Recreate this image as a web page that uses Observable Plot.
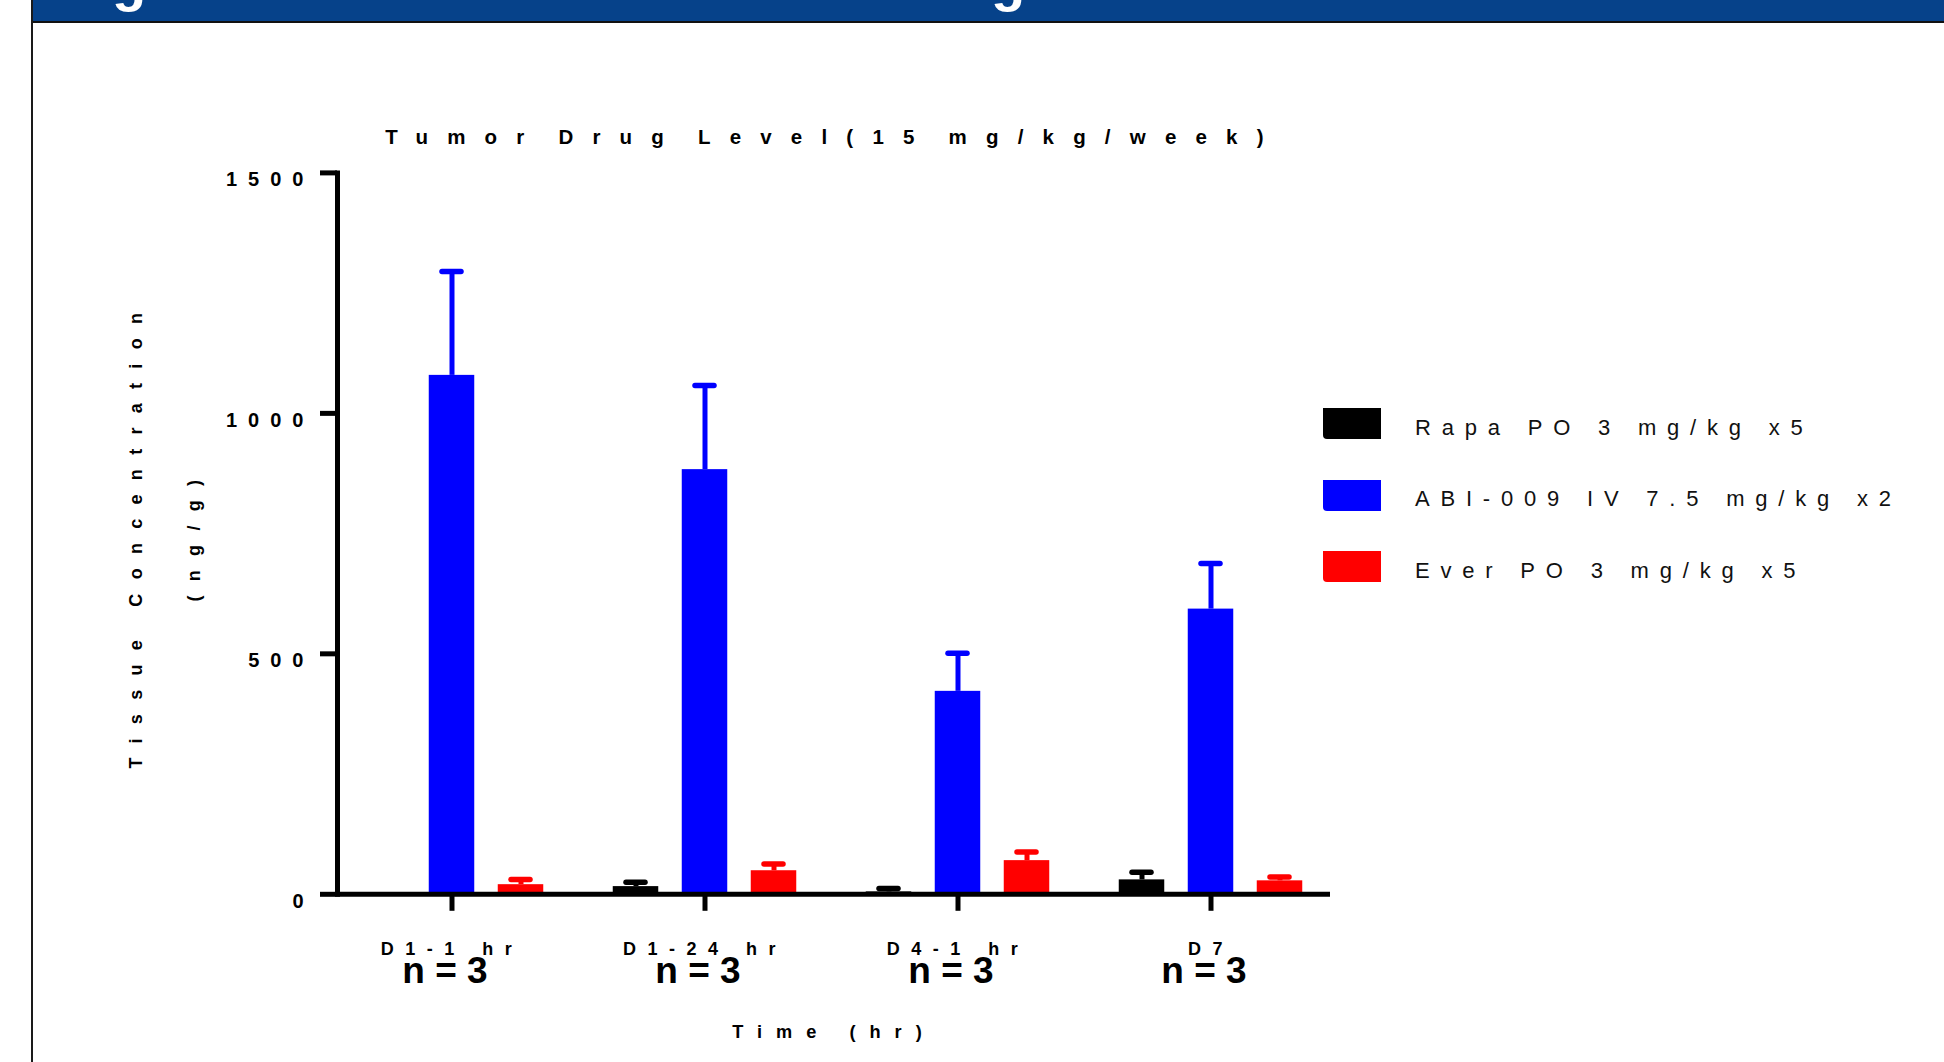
<!DOCTYPE html>
<html>
<head>
<meta charset="utf-8">
<script src="https://cdn.jsdelivr.net/npm/d3@7"></script>
<script src="https://cdn.jsdelivr.net/npm/@observablehq/plot@0.6"></script>
<style>
  html, body { margin: 0; padding: 0; background: #ffffff; }
  #page { position: relative; width: 1944px; height: 1062px; overflow: hidden; background: #ffffff; font-family: "Liberation Sans", Arial, sans-serif; }
  #chart { position: absolute; left: 0; top: 0; }
  #header { position: absolute; left: 33px; top: 0; width: 1911px; height: 21px; background: #06428a; border-bottom: 2.5px solid #111; }
  #headtext { position: absolute; left: 0; top: 0; }
  #leftline { position: absolute; left: 31px; top: 0; width: 2.3px; height: 1062px; background: #1a1a1a; }
  #legend { position: absolute; left: 1323px; top: 408px; }
  .lg-row { display: flex; align-items: center; height: 31px; margin-bottom: 40.5px; }
  .lg-sw { width: 58px; height: 31px; border-radius: 0 0 0 4px; }
  .lg-tx { margin-left: 34px; font-size: 22px; letter-spacing: 10.8px; color: #111; white-space: nowrap; position: relative; top: 4px; }
</style>
</head>
<body>
<div id="page">
  <div id="chart"></div>
  <div id="leftline"></div>
  <div id="header"></div>
  <svg id="headtext" width="1944" height="21">
    <text x="129" y="0" text-anchor="middle" font-family="Liberation Sans, Arial, sans-serif" font-weight="bold" font-size="56" fill="#ffffff">g</text>
    <text x="1008" y="0" text-anchor="middle" font-family="Liberation Sans, Arial, sans-serif" font-weight="bold" font-size="56" fill="#ffffff">g</text>
  </svg>
  <div id="legend"></div>
</div>
<script>
// ---- data ----
const categories = ["D1-1 hr", "D1-24 hr", "D4-1 hr", "D7"];
const series = ["Rapa PO 3 mg/kg x5", "ABI-009 IV 7.5 mg/kg x2", "Ever PO 3 mg/kg x5"];
const seriesColors = ["#000000", "#0000ff", "#ff0000"];
const rapaMean = [0, 16, 5, 30];
const rapaErr = [0, 9, 7, 16];
const abiMean = [1079, 883, 422, 593];
const abiErr = [216, 175, 79, 95];
const everMean = [20, 49, 70, 28];
const everErr = [11, 14, 18, 8];
const nLabels = ["n = 3", "n = 3", "n = 3", "n = 3"];
const yTicks = [0, 500, 1000, 1500];
const chartTitle = "Tumor Drug Level(15 mg/kg/week)";
const yTitle = "Tissue Concentration\n(ng/g)";
const xTitle = "Time (hr)";

// ---- table built from the arrays ----
const means = [rapaMean, abiMean, everMean];
const errs = [rapaErr, abiErr, everErr];
const rows = categories.flatMap((c, i) => series.map((s, k) => ({cat: c, series: s, mean: means[k][i], err: errs[k][i]})));
const nRows = categories.map((c, i) => ({cat: c, n: nLabels[i]}));

const offsets = [-69, 0, 69];
const barInset = (253 - 45.5) / 2;
const capInset = (253 - 19) / 2;

const seriesMarks = series.flatMap((s, k) => {
  const d = rows.filter(r => r.series === s);
  const e = d.filter(r => r.err > 0);
  return [
    Plot.ruleX(e, {x: "cat", y1: "mean", y2: r => r.mean + r.err, stroke: "series", strokeWidth: 5, dx: offsets[k]}),
    Plot.tickY(e, {x: "cat", y: r => r.mean + r.err, stroke: "series", strokeWidth: 5.5, strokeLinecap: "round", dx: offsets[k], insetLeft: capInset, insetRight: capInset}),
    Plot.barY(d, {x: "cat", y: "mean", fill: "series", dx: offsets[k], insetLeft: barInset, insetRight: barInset})
  ];
});

const plot = Plot.plot({
  width: 1944,
  height: 1062,
  marginLeft: 337,
  marginRight: 614,
  marginTop: 172.4,
  marginBottom: 168.2,
  style: {fontFamily: "Liberation Sans, Arial, sans-serif", fontSize: "17px", fontWeight: "bold", background: "transparent", color: "#000", overflow: "visible"},
  x: {domain: categories, range: [324.5, 1336.5], padding: 0, label: null},
  y: {domain: [0, 1500], label: null},
  color: {domain: series, range: seriesColors},
  marks: [
    ...seriesMarks,
    Plot.ruleY([0], {stroke: "#000", strokeWidth: 5}),
    Plot.frame({anchor: "left", stroke: "#000", strokeWidth: 5}),
    Plot.axisX({tickSize: 17, tickPadding: 31, strokeWidth: 5, fontSize: 18, fontWeight: "bold", label: null}),
    Plot.axisY({ticks: yTicks, tickSize: 17, strokeWidth: 5, tickFormat: () => "", label: null}),
    Plot.axisY({ticks: yTicks, tickSize: 0, tickPadding: 23, dy: 7, fontSize: 20, fontWeight: "bold", tickFormat: d3.format("d"), label: null}),
    Plot.text([chartTitle], {text: d => d, frameAnchor: "top", lineAnchor: "bottom", dy: -29, fontSize: 20.5, fontWeight: "bold"}),
    Plot.text([yTitle], {text: d => d, frameAnchor: "left", textAnchor: "middle", rotate: -90, lineAnchor: "middle", lineHeight: 3.2, dx: -185, fontSize: 18, fontWeight: "bold"}),
    Plot.text([xTitle], {text: d => d, frameAnchor: "bottom", lineAnchor: "bottom", dy: 144, fontSize: 18.2, fontWeight: "bold"}),
    Plot.text(nRows, {x: "cat", text: "n", frameAnchor: "bottom", lineAnchor: "bottom", dy: 89, dx: -7, fontSize: 37, fontWeight: "bold"})
  ]
});
document.getElementById("chart").appendChild(plot);

// letter spacing, as in the reference
const svg = d3.select(plot);
svg.selectAll('g[aria-label="y-axis tick label"]').style("letter-spacing", "11px");
svg.selectAll('g[aria-label="x-axis tick label"]').style("letter-spacing", "11.5px");
svg.selectAll('g[aria-label="text"]').each(function() {
  const fs = parseFloat(this.getAttribute("font-size"));
  if (fs === 20.5) d3.select(this).style("letter-spacing", "19.2px").style("word-spacing", "-10px");
  else if (fs === 18) d3.select(this).style("letter-spacing", "14.3px");
  else if (fs === 18.2) d3.select(this).style("letter-spacing", "14px");
});

// legend from the plot's color scale
const color = plot.scale("color");
const legend = d3.select("#legend");
series.forEach(s => {
  const row = legend.append("div").attr("class", "lg-row");
  row.append("div").attr("class", "lg-sw").style("background", color.apply(s));
  row.append("div").attr("class", "lg-tx").text(s);
});
</script>
</body>
</html>
